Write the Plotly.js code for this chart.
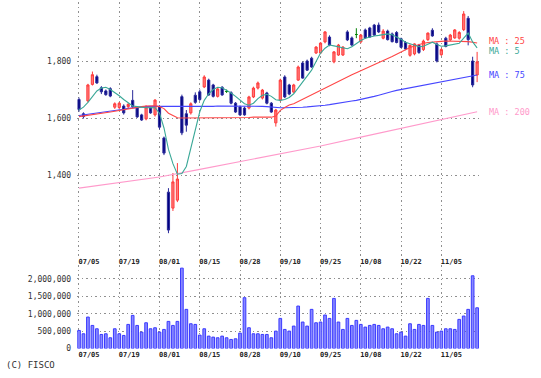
<!DOCTYPE html>
<html><head><meta charset="utf-8">
<script src="https://cdn.plot.ly/plotly-3.0.1.min.js"></script>
<style>html,body{margin:0;padding:0;background:#fff;}#chart{width:541px;height:378px;}</style>
</head><body><div id="chart"></div>
<script>
// ---- data ----
const tickIdx = [0, 9, 18, 27, 36, 45, 54, 63, 72, 81];
const tickLabels = ['07/05','07/19','08/01','08/15','08/28','09/10','09/25','10/08','10/22','11/05'];

const openP = [1665,1615,1660,1718,1745,1706,1695,1703,1638,1637,
  1642,1640,1662,1635,1611,1597,1635,1611,1640,1530,
  1340,1284,1312,1675,1615,1618,1680,1692,1709,1733,
  1716,1676,1708,1693,1689,1652,1639,1635,1635,1674,
  1705,1670,1688,1652,1583,1663,1744,1716,1691,1733,
  1793,1800,1810,1828,1828,1867,1884,1797,1821,1821,
  1902,1881,1893,1867,1909,1916,1926,1926,1880,1905,
  1895,1900,1878,1865,1820,1825,1855,1840,1875,1908,
  1860,1822,1880,1874,1881,1880,1910,1950,1800,1751];
const highP = [1672,1620,1720,1763,1752,1712,1700,1708,1655,1656,
  1648,1652,1698,1640,1615,1645,1640,1666,1645,1535,
  1354,1407,1442,1682,1628,1655,1690,1700,1750,1738,
  1720,1706,1712,1700,1694,1656,1644,1640,1678,1710,
  1728,1702,1692,1656,1632,1738,1750,1720,1720,1784,
  1798,1805,1815,1852,1866,1905,1890,1835,1860,1852,
  1908,1886,1915,1895,1914,1920,1930,1935,1912,1910,
  1900,1905,1882,1870,1858,1862,1860,1875,1900,1915,
  1865,1845,1885,1895,1912,1905,1975,1958,1815,1832];
const lowP = [1622,1598,1655,1714,1720,1684,1678,1673,1632,1630,
  1612,1635,1635,1600,1590,1592,1615,1605,1560,1470,
  1196,1274,1305,1540,1552,1612,1650,1660,1705,1678,
  1672,1672,1678,1688,1648,1618,1608,1608,1630,1670,
  1700,1665,1648,1618,1570,1658,1670,1680,1688,1730,
  1738,1765,1776,1825,1825,1862,1852,1792,1818,1818,
  1870,1852,1880,1862,1878,1882,1888,1898,1876,1872,
  1865,1862,1845,1838,1815,1820,1825,1835,1870,1885,
  1795,1818,1848,1870,1878,1875,1905,1855,1708,1726];
const closeP = [1630,1605,1716,1752,1723,1692,1682,1677,1650,1652,
  1618,1648,1640,1604,1593,1639,1618,1663,1568,1477,
  1207,1376,1386,1548,1575,1650,1655,1665,1744,1681,
  1676,1702,1681,1693,1652,1621,1611,1611,1674,1705,
  1723,1698,1652,1621,1628,1733,1674,1684,1716,1779,
  1740,1768,1779,1849,1863,1902,1856,1832,1856,1849,
  1874,1856,1893,1891,1881,1884,1891,1902,1905,1875,
  1868,1865,1848,1842,1855,1860,1830,1870,1898,1888,
  1800,1840,1851,1891,1909,1900,1965,1875,1716,1797];

const volume = [519000,423000,904000,663000,567000,404000,423000,308000,567000,423000,
  375000,692000,952000,663000,471000,740000,567000,596000,471000,548000,
  779000,663000,779000,2310000,1125000,711000,692000,385000,567000,356000,
  327000,308000,356000,308000,260000,279000,442000,1460000,596000,423000,
  423000,404000,404000,308000,500000,865000,548000,500000,644000,1220000,
  760000,644000,1125000,740000,760000,962000,865000,1440000,760000,548000,
  865000,663000,808000,692000,615000,663000,692000,663000,567000,615000,
  567000,423000,471000,356000,711000,548000,692000,663000,1440000,663000,
  471000,500000,567000,567000,548000,837000,933000,1125000,2090000,1170000];

const ma5 = [1628,1638,1655,1676,1695,1705,1708,1700,1690,1678,
  1665,1652,1642,1640,1638,1636,1637,1636,1617,1565,
  1490,1440,1403,1405,1430,1495,1562,1622,1662,1685,
  1700,1708,1706,1698,1688,1676,1662,1650,1645,1652,
  1668,1680,1683,1676,1664,1662,1665,1672,1685,1705,
  1725,1746,1768,1798,1828,1845,1856,1853,1849,1845,
  1843,1850,1862,1872,1880,1885,1888,1890,1893,1895,
  1892,1885,1876,1866,1860,1855,1850,1852,1860,1866,
  1858,1852,1853,1856,1860,1862,1880,1898,1867,1846];
const ma25 = [1605,1607,1609,1612,1614,1616,1618,1621,1624,1627,
  1630,1633,1636,1638,1640,1642,1643,1643,1640,1633,
  1617,1608,1601,1600,1600,1600,1600,1600,1600,1600,
  1600,1600,1601,1601,1601,1601,1601,1602,1602,1603,
  1603,1603,1603,1603,1607,1627,1637,1646,1650,1658,
  1665,1672,1680,1688,1696,1704,1712,1720,1729,1737,
  1745,1752,1759,1766,1773,1780,1787,1794,1800,1808,
  1816,1824,1832,1840,1847,1853,1858,1862,1865,1867,
  1868,1869,1870,1870,1870,1870,1869,1868,1866,1863];
const ma75 = [1609,1611,1613,1616,1618,1620,1622,1625,1627,1629,
  1631,1634,1636,1638,1639,1640,1641,1641,1641,1640,
  1639,1639,1640,1640,1640,1640,1640,1641,1641,1641,
  1641,1642,1642,1643,1643,1643,1643,1643,1643,1642,
  1642,1641,1640,1638,1637,1636,1636,1636,1637,1637,
  1638,1639,1640,1641,1643,1645,1647,1650,1652,1655,
  1657,1660,1662,1665,1668,1672,1676,1680,1685,1690,
  1693,1697,1700,1703,1707,1710,1713,1716,1718,1721,
  1724,1727,1730,1733,1736,1739,1742,1744,1747,1751];
const ma200Idx = [0, 9, 18, 27, 36, 45, 54, 63, 72, 81, 89];
const ma200 = [1354,1374,1393,1420,1448,1475,1502,1533,1564,1594,1622];

// ---- build traces ----
const idx = openP.map((_, i) => i);
function pick(cond) {
  const o = {x: [], open: [], high: [], low: [], close: []};
  idx.forEach(i => {
    if (cond(openP[i], closeP[i])) {
      o.x.push(i); o.open.push(openP[i]); o.high.push(highP[i]);
      o.low.push(lowP[i]); o.close.push(closeP[i]);
    }
  });
  return o;
}
function candle(d, lineC, fillC) {
  return Object.assign({
    type: 'candlestick', xaxis: 'x', yaxis: 'y', whiskerwidth: 0,
    increasing: {line: {color: lineC, width: 1}, fillcolor: fillC},
    decreasing: {line: {color: lineC, width: 1}, fillcolor: fillC},
    hoverinfo: 'skip', showlegend: false
  }, d);
}
const up = pick((o, c) => c > o), dn = pick((o, c) => c < o), flat = pick((o, c) => c === o);

const maLine = (x, y, color) => ({type: 'scatter', mode: 'lines', x: x, y: y, xaxis: 'x', yaxis: 'y',
  line: {color: color, width: 1.1}, hoverinfo: 'skip', showlegend: false});

const C5 = '#3aa897', C25 = '#ff4646', C75 = '#4646ff', C200 = '#ff9acb';

const traces = [
  maLine(ma200Idx, ma200, C200),
  maLine(idx, ma75, C75),
  maLine(idx, ma25, C25),
  candle(up, '#ff3a3a', '#ff7a7a'),
  candle(dn, '#2a2a9a', '#000080'),
  candle(flat, '#008000', '#008000'),
  maLine(idx, ma5, C5),
  {type: 'bar', x: idx, y: volume, xaxis: 'x2', yaxis: 'y2',
   marker: {color: '#8a8aff', line: {color: '#3a3aff', width: 1}},
   hoverinfo: 'skip', showlegend: false}
];

const W = 541, H = 378;
const px = v => v / W, py = v => 1 - v / H;
const grid = {showgrid: true, gridcolor: '#8f8f8f', gridwidth: 1, griddash: '1.5px,3px',
  zeroline: false, showline: false, ticks: ''};
const mono = 'DejaVu Sans Mono, monospace';
const xCommon = Object.assign({}, grid, {
  domain: [px(77.2), px(479.8)], range: [-0.4, 89.6],
  tickmode: 'array', tickvals: tickIdx, ticktext: tickLabels,
  tickfont: {family: mono, size: 7, color: '#222', weight: 'bold'}, ticklabelshift: 10,
  fixedrange: true
});

const last = a => a[a.length - 1];
const maLabel = (txt, y, color, shift) => ({xref: 'paper', yref: 'y', x: px(487), y: y,
  xanchor: 'left', yanchor: 'middle', text: txt, showarrow: false, yshift: shift || 0,
  font: {family: mono, size: 8.5, color: color}});

const layout = {
  width: W, height: H, margin: {l: 0, r: 0, t: 0, b: 0},
  paper_bgcolor: '#fff', plot_bgcolor: '#fff', showlegend: false, hovermode: false,
  bargap: 0.4,
  xaxis: Object.assign({}, xCommon, {anchor: 'y', rangeslider: {visible: false}, ticklabelstandoff: 0}),
  xaxis2: Object.assign({}, xCommon, {anchor: 'y2', ticklabelstandoff: 0}),
  yaxis: Object.assign({}, grid, {domain: [py(256), py(2)], range: [1116, 2007],
    tickmode: 'array', tickvals: [1400, 1600, 1800], ticktext: ['1,400', '1,600', '1,800'],
    tickfont: {family: mono, size: 8, color: '#333'}, ticklabelstandoff: 5, fixedrange: true}),
  yaxis2: Object.assign({}, grid, {domain: [py(348.5), py(265)], range: [0, 2400000],
    tickmode: 'array', tickvals: [0, 500000, 1000000, 1500000, 2000000],
    ticktext: ['0', '500,000', '1,000,000', '1,500,000', '2,000,000'],
    tickfont: {family: mono, size: 8, color: '#333'}, ticklabelstandoff: 5, fixedrange: true}),
  annotations: [
    {xref: 'paper', yref: 'paper', x: px(4), y: py(365), xanchor: 'left', yanchor: 'middle',
     text: '(C) FISCO', showarrow: false, font: {family: mono, size: 9, color: '#333'}},
    maLabel('MA : 25', last(ma25), C25, 2),
    maLabel('MA : 5', last(ma5), C5, -3),
    maLabel('MA : 75', last(ma75), C75, 0),
    maLabel('MA : 200', last(ma200), C200, 0)
  ]
};

Plotly.newPlot('chart', traces, layout, {staticPlot: true, displayModeBar: false});
</script>
</body></html>
